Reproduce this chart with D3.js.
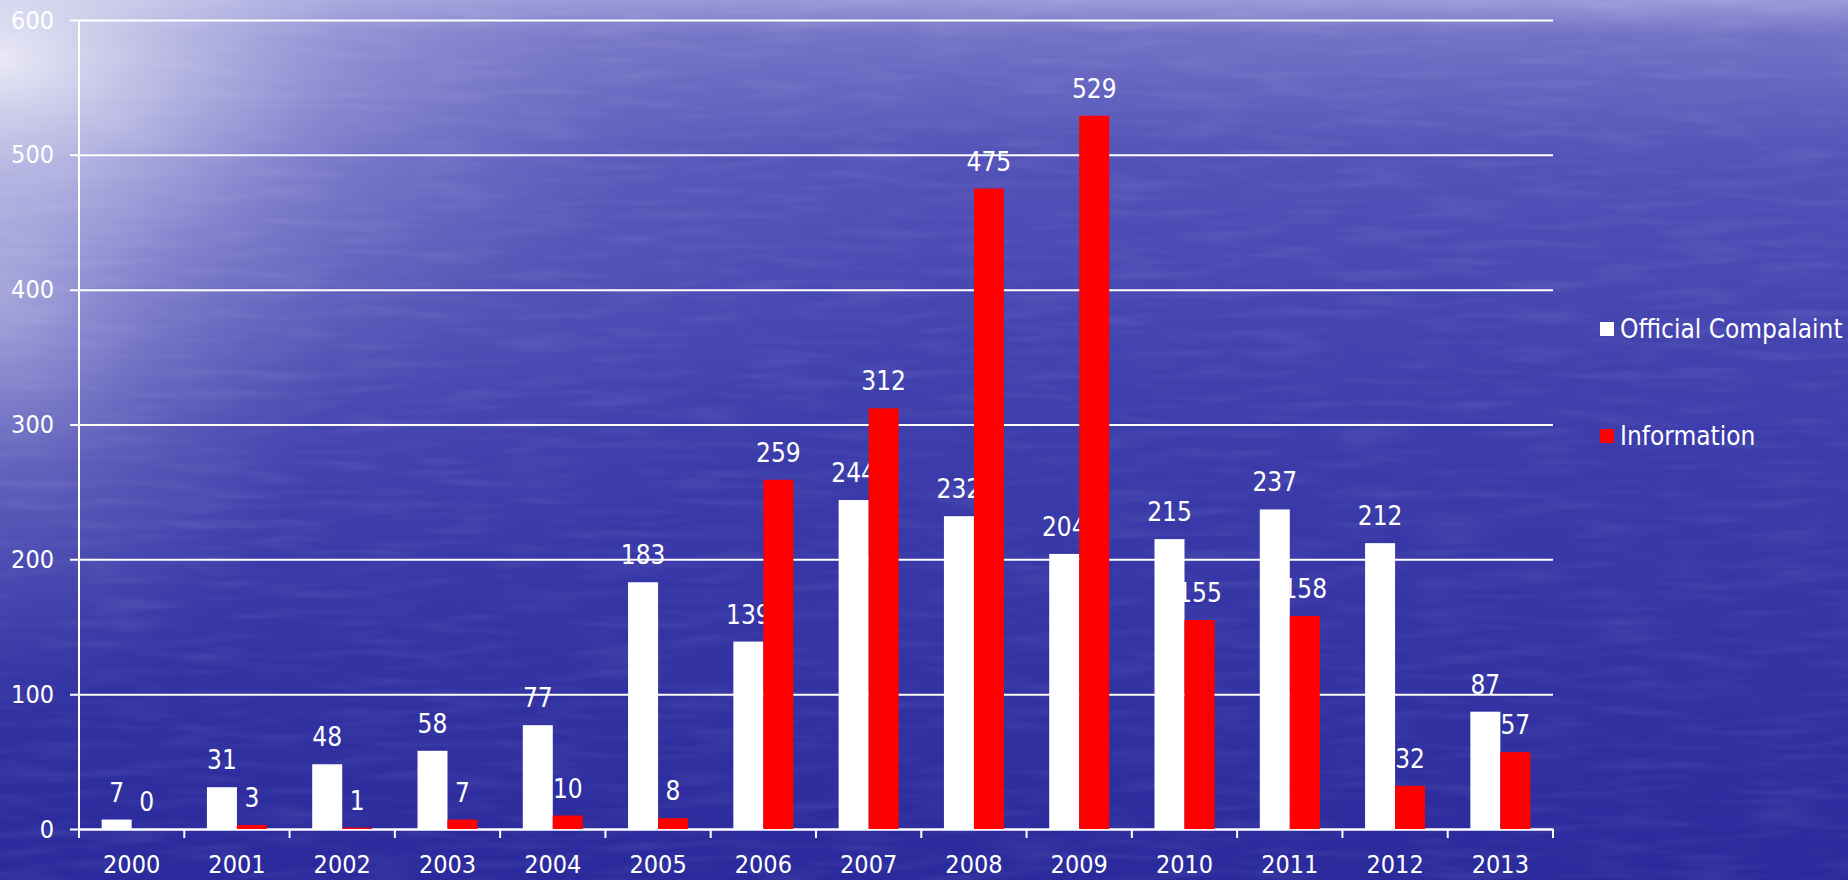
<!DOCTYPE html>
<html lang="en">
<head>
  <meta charset="UTF-8">
  <title>Official Complaint vs Information</title>
  <script src="https://cdn.jsdelivr.net/npm/d3@7"></script>
  <style>
    html, body { margin: 0; padding: 0; background: #3a3aa8; }
    svg { display: block; }
    text { font-family: "DejaVu Sans Condensed", "DejaVu Sans", sans-serif; font-stretch: condensed; fill: #fff; }
  </style>
</head>
<body>
  <svg class="svg"></svg>
  <script>
    const years = ['2000','2001','2002','2003','2004','2005','2006','2007','2008','2009','2010','2011','2012','2013'];
    const official = [7, 31, 48, 58, 77, 183, 139, 244, 232, 204, 215, 237, 212, 87];
    const information = [0, 3, 1, 7, 10, 8, 259, 312, 475, 529, 155, 158, 32, 57];
    const seriesNames = ['Official Compalaint', 'Information'];
    const seriesColors = ['#ffffff', '#ff0000'];
    const yTicks = [0, 100, 200, 300, 400, 500, 600];

    const w = 1848;
    const h = 880;
    const padLeft = 79, padRight = 1553, padTop = 20, padBottom = 829;

    const svg = d3.select('.svg')
      .attr('width', w)
      .attr('height', h);

    // background: sea-ish blue, lighter towards the top left
    const defs = svg.append('defs');
    const lin = defs.append('linearGradient')
      .attr('id', 'bgLin').attr('x1', 0).attr('y1', 0).attr('x2', 0).attr('y2', 1);
    [[0, '#9a9ad8'], [0.04, '#7272c6'], [0.18, '#5252b8'], [0.5, '#3c3cab'], [1, '#2a2a9c']]
      .forEach(s => lin.append('stop').attr('offset', s[0]).attr('stop-color', s[1]));

    const rad = defs.append('radialGradient')
      .attr('id', 'bgRad').attr('gradientUnits', 'userSpaceOnUse')
      .attr('cx', 0).attr('cy', 60).attr('r', 1000)
      .attr('gradientTransform', 'translate(0,60) scale(1,0.62) translate(0,-60)');
    [[0, '#ffffff', 0.92], [0.12, '#eeeef8', 0.72], [0.35, '#c4c4ec', 0.38], [0.65, '#9a9ad8', 0.12], [1, '#8080d0', 0]]
      .forEach(s => rad.append('stop').attr('offset', s[0]).attr('stop-color', s[1]).attr('stop-opacity', s[2]));

    // extra glow running down the left edge
    const side = defs.append('radialGradient')
      .attr('id', 'bgSide').attr('gradientUnits', 'userSpaceOnUse')
      .attr('cx', 0).attr('cy', 300).attr('r', 420)
      .attr('gradientTransform', 'translate(0,300) scale(0.8,1) translate(0,-300)');
    [[0, '#e8e8f8', 0.45], [0.5, '#b8b8e6', 0.18], [1, '#9090d4', 0]]
      .forEach(s => side.append('stop').attr('offset', s[0]).attr('stop-color', s[1]).attr('stop-opacity', s[2]));

    const filt = defs.append('filter').attr('id', 'waves')
      .attr('x', 0).attr('y', 0).attr('width', 1).attr('height', 1);
    filt.append('feTurbulence')
      .attr('type', 'fractalNoise').attr('baseFrequency', '0.012 0.1')
      .attr('numOctaves', 2).attr('seed', 4).attr('result', 'noise');
    filt.append('feColorMatrix')
      .attr('in', 'noise').attr('type', 'matrix')
      .attr('values', '0 0 0 0 1  0 0 0 0 1  0 0 0 0 1  0 0 0 1.6 -0.72');

    svg.append('rect').attr('width', w).attr('height', h).attr('fill', 'url(#bgLin)');
    svg.append('rect').attr('width', w).attr('height', h).attr('fill', 'url(#bgRad)');
    svg.append('rect').attr('width', w).attr('height', h).attr('fill', 'url(#bgSide)');
    svg.append('rect').attr('width', w).attr('height', h)
      .attr('filter', 'url(#waves)').attr('opacity', 0.1);

    const x = d3.scaleBand()
      .domain(years)
      .range([padLeft, padRight]);

    const xInner = d3.scaleBand()
      .domain([0, 1])
      .range([0, x.bandwidth()])
      .paddingOuter(0.755);

    const y = d3.scaleLinear()
      .domain([0, 600])
      .range([padBottom, padTop]);

    // gridlines + y labels
    const yAxis = d3.axisLeft(y)
      .tickValues(yTicks)
      .tickSize(-(padRight - padLeft + 9))
      .tickPadding(16);

    const gy = svg.append('g')
      .attr('transform', 'translate(' + (padLeft - 9) + ',0)')
      .call(yAxis);
    gy.select('.domain').remove();
    gy.selectAll('line').attr('stroke', '#fff').attr('stroke-width', 2);
    gy.selectAll('text').attr('font-size', 25).attr('fill', '#fff')
      .style('font-family', '"DejaVu Sans Condensed", "DejaVu Sans", sans-serif');

    // y axis line
    svg.append('line')
      .attr('x1', padLeft).attr('x2', padLeft)
      .attr('y1', y(600)).attr('y2', padBottom + 9)
      .attr('stroke', '#fff').attr('stroke-width', 2);

    // x axis
    const xAxis = d3.axisBottom(x).tickSize(0).tickPadding(26);
    const gx = svg.append('g')
      .attr('transform', 'translate(0,' + padBottom + ')')
      .call(xAxis);
    gx.select('.domain').attr('stroke', '#fff').attr('stroke-width', 2);
    gx.selectAll('text').attr('font-size', 25).attr('fill', '#fff')
      .style('font-family', '"DejaVu Sans Condensed", "DejaVu Sans", sans-serif');

    // tick marks at band edges
    svg.append('g').selectAll('line')
      .data(years)
      .enter()
      .append('line')
      .attr('x1', d => x(d) + x.bandwidth())
      .attr('x2', d => x(d) + x.bandwidth())
      .attr('y1', padBottom)
      .attr('y2', padBottom + 9)
      .attr('stroke', '#fff')
      .attr('stroke-width', 2);

    const series = [official, information];

    series.forEach((vals, s) => {
      const g = svg.append('g');
      g.selectAll('rect')
        .data(vals)
        .enter()
        .append('rect')
        .attr('x', (d, i) => x(years[i]) + xInner(s))
        .attr('y', d => y(d))
        .attr('width', xInner.bandwidth())
        .attr('height', d => padBottom - y(d))
        .attr('fill', seriesColors[s]);

      g.selectAll('text')
        .data(vals)
        .enter()
        .append('text')
        .attr('x', (d, i) => x(years[i]) + xInner(s) + xInner.bandwidth() / 2)
        .attr('y', d => y(d) - 18)
        .attr('text-anchor', 'middle')
        .attr('font-size', 26)
        .text(d => d);
    });

    // legend
    const legend = svg.append('g');
    const legY = [329, 436];
    seriesNames.forEach((name, i) => {
      legend.append('rect')
        .attr('x', 1600).attr('y', legY[i] - 7)
        .attr('width', 14).attr('height', 14)
        .attr('fill', seriesColors[i]);
      legend.append('text')
        .attr('x', 1620).attr('y', legY[i] + 9)
        .attr('font-size', 26)
        .text(name);
    });
  </script>
</body>
</html>
